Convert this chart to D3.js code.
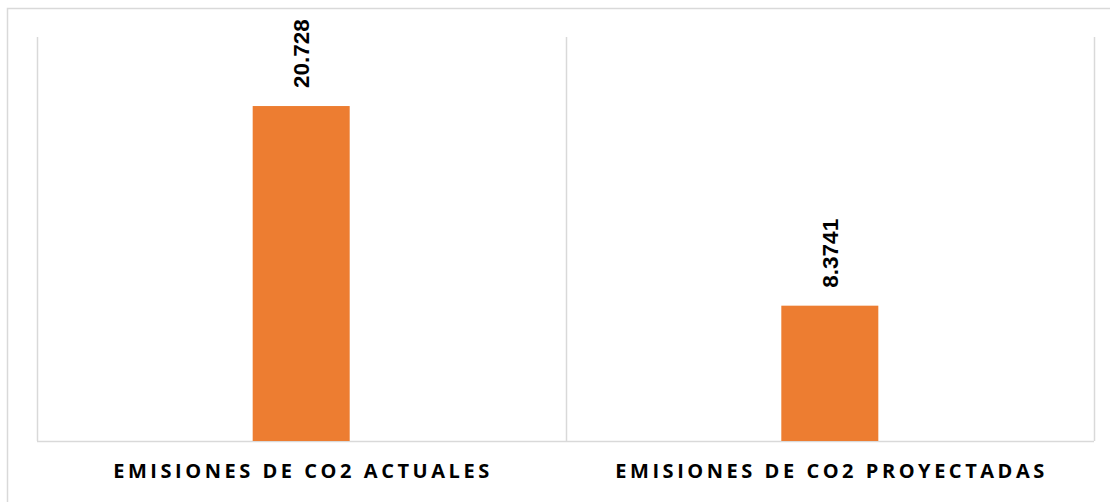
<!DOCTYPE html>
<html>
<head>
<meta charset="utf-8">
<script src="https://cdn.jsdelivr.net/npm/d3@7"></script>
<style>
  html, body { margin: 0; padding: 0; background: #fff; }
  svg { display: block; }
</style>
</head>
<body>
<svg id="chart" width="1110" height="502"></svg>
<script>
// data
var categories = ["EMISIONES DE CO2 ACTUALES", "EMISIONES DE CO2 PROYECTADAS"];
var values = [20.728, 8.3741];
var valueLabels = ["20.728", "8.3741"];
var labelWidths = [376, 429];

var width = 1110;
var height = 502;
var margin = { top: 37, right: 16, bottom: 61, left: 37 };

var svg = d3.select("#chart");

// outer chart border
svg.append("rect")
  .attr("x", 7.5)
  .attr("y", 8.5)
  .attr("width", 1110)
  .attr("height", 500)
  .attr("fill", "none")
  .attr("stroke", "#d9d9d9")
  .attr("stroke-width", 1.5);

var x = d3.scaleBand()
  .domain(categories)
  .range([margin.left, width - margin.right])
  .paddingInner(0.8165)
  .paddingOuter(0.408);

var y = d3.scaleLinear()
  .domain([0, 25])
  .range([height - margin.bottom, margin.top]);

// category dividers
var step = x.step();
var dividers = d3.range(categories.length + 1).map(function (i) {
  return margin.left + i * step;
});

svg.append("g")
  .selectAll("line")
  .data(dividers)
  .join("line")
  .attr("x1", d => Math.round(d) + 0.5)
  .attr("x2", d => Math.round(d) + 0.5)
  .attr("y1", y(25))
  .attr("y2", y(0))
  .attr("stroke", "#d9d9d9")
  .attr("stroke-width", 1.5);

// baseline
svg.append("line")
  .attr("x1", margin.left)
  .attr("x2", width - margin.right)
  .attr("y1", Math.round(y(0)) + 0.5)
  .attr("y2", Math.round(y(0)) + 0.5)
  .attr("stroke", "#d9d9d9")
  .attr("stroke-width", 1.5);

// bars
svg.append("g")
  .selectAll("rect")
  .data(values)
  .join("rect")
  .attr("x", (d, i) => x(categories[i]))
  .attr("width", x.bandwidth())
  .attr("y", d => y(d))
  .attr("height", d => y(0) - y(d))
  .attr("fill", "#ED7D31");

// value labels, rotated
svg.append("g")
  .selectAll("text")
  .data(values)
  .join("text")
  .attr("transform", (d, i) =>
    "translate(" + (x(categories[i]) + x.bandwidth() / 2 + 8) + "," + (y(d) - 18) + ") rotate(-90)")
  .attr("text-anchor", "start")
  .attr("font-family", "'Liberation Sans', Arial, sans-serif")
  .attr("font-weight", "bold")
  .attr("font-size", 22.5)
  .attr("fill", "#000")
  .text((d, i) => valueLabels[i]);

// category labels
svg.append("g")
  .selectAll("text")
  .data(categories)
  .join("text")
  .attr("x", d => x(d) + x.bandwidth() / 2)
  .attr("y", 478)
  .attr("text-anchor", "middle")
  .attr("font-family", "'Open Sans', sans-serif")
  .attr("font-weight", "bold")
  .attr("font-size", 20)
  .attr("fill", "#000")
  .attr("textLength", (d, i) => labelWidths[i])
  .attr("lengthAdjust", "spacing")
  .text(d => d);
</script>
</body>
</html>
